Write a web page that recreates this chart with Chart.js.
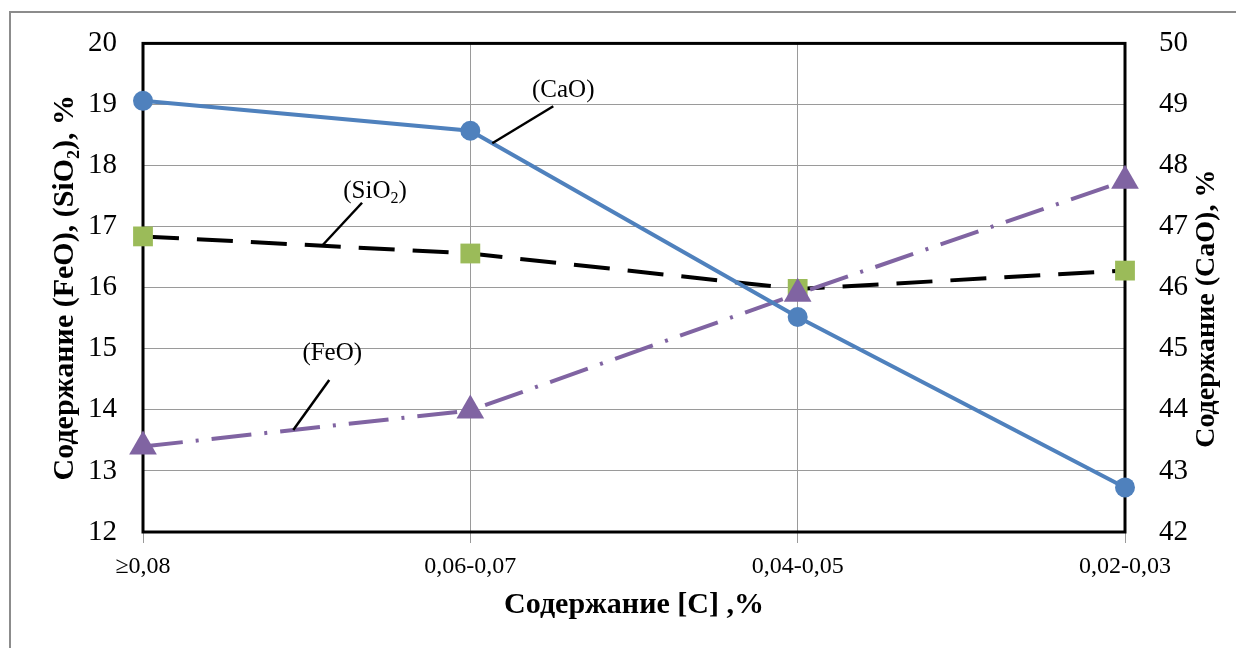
<!DOCTYPE html>
<html lang="ru">
<head>
<meta charset="utf-8">
<title>Содержание оксидов в шлаке</title>
<script src="https://cdn.jsdelivr.net/npm/chart.js@4.4.1/dist/chart.umd.min.js"></script>
<style>
    html, body { margin: 0; padding: 0; background: #fff; overflow: hidden; }
    #marco {
        position: absolute; left: 9px; top: 11px; width: 1400px; height: 800px;
        border-top: 2px solid #8c8c8c; border-left: 2px solid #8c8c8c;
    }
    #grafico { position: absolute; left: 0; top: 0; }
</style>
</head>
<body>
<div id="marco"></div>
<canvas id="grafico" width="1236" height="648"></canvas>
<script>
// ------------------------------ Datos ------------------------------
const categorias = ["≥0,08", "0,06-0,07", "0,04-0,05", "0,02-0,03"];

const valoresCaO = [49.06, 48.57, 45.52, 42.73];   // eje derecho
const valoresSiO2 = [16.84, 16.56, 15.98, 16.28];  // eje izquierdo
const valoresFeO = [13.40, 13.99, 15.90, 17.75];   // eje izquierdo

const ticksIzquierda = [12, 13, 14, 15, 16, 17, 18, 19, 20];
const ticksDerecha = [42, 43, 44, 45, 46, 47, 48, 49, 50];

const tituloX = "Содержание [С] ,%";
const tituloIzquierda = "Содержание (FeO), (SiO₂), %";
const tituloDerecha = "Содержание (CaO), %";

// ------------------------------ Estilos ------------------------------
const fuente = "'Liberation Serif', 'Times New Roman', serif";
const colorGrilla = "#9a9a9a";

// Etiquetas con línea guía: posición a lo largo de la serie (índice decimal)
const anotaciones = [
    { serie: 0, partes: [{ t: "(CaO)" }], pos: 1.067, lx: 61, ly: -37, tx: 71, ty: -53 },
    { serie: 2, partes: [{ t: "(SiO" }, { t: "2", sub: true }, { t: ")" }], pos: 0.547, lx: 40, ly: -43, tx: 53, ty: -54 },
    { serie: 1, partes: [{ t: "(FeO)" }], pos: 0.459, lx: 36, ly: -50, tx: 39, ty: -77 }
];

// ------------------------------ Plugin: marco, anotaciones y título derecho ------------------------------
const pluginExtras = {
    id: "extras",
    beforeDatasetsDraw(chart) {
        const { ctx, chartArea: a } = chart;
        ctx.save();
        ctx.strokeStyle = "#000";
        ctx.lineWidth = 3;
        ctx.strokeRect(a.left, a.top, a.right - a.left, a.bottom - a.top);
        ctx.restore();
    },
    afterDatasetsDraw(chart) {
        const { ctx } = chart;
        ctx.save();

        anotaciones.forEach(an => {
            const puntos = chart.getDatasetMeta(an.serie).data;
            const i = Math.floor(an.pos);
            const f = an.pos - i;
            const x = puntos[i].x + (puntos[i + 1].x - puntos[i].x) * f;
            const y = puntos[i].y + (puntos[i + 1].y - puntos[i].y) * f;

            ctx.strokeStyle = "#000";
            ctx.lineWidth = 2.5;
            ctx.beginPath();
            ctx.moveTo(x, y);
            ctx.lineTo(x + an.lx, y + an.ly);
            ctx.stroke();

            // Texto (con subíndice si hace falta)
            const normal = "25px " + fuente;
            const chico = "16px " + fuente;
            let ancho = 0;
            an.partes.forEach(p => {
                ctx.font = p.sub ? chico : normal;
                ancho += ctx.measureText(p.t).width;
            });
            let cx = x + an.tx - ancho / 2;
            const cy = y + an.ty;
            ctx.fillStyle = "#000";
            ctx.textBaseline = "middle";
            ctx.textAlign = "left";
            an.partes.forEach(p => {
                ctx.font = p.sub ? chico : normal;
                ctx.fillText(p.t, cx, p.sub ? cy + 7 : cy);
                cx += ctx.measureText(p.t).width;
            });
        });

        // Título del eje derecho, leído de abajo hacia arriba
        const s = chart.scales.y2;
        ctx.translate(s.right - 29, (s.top + s.bottom) / 2 + 21);
        ctx.rotate(-Math.PI / 2);
        ctx.font = "bold 28px " + fuente;
        ctx.textAlign = "center";
        ctx.textBaseline = "middle";
        ctx.fillStyle = "#000";
        ctx.fillText(tituloDerecha, 0, 0);

        ctx.restore();
    }
};

// ------------------------------ Gráfico ------------------------------
const ctx = document.getElementById("grafico").getContext("2d");

new Chart(ctx, {
    type: "line",
    data: {
        labels: categorias,
        datasets: [
            {
                label: "(CaO)",
                data: valoresCaO,
                yAxisID: "y2",
                borderColor: "#4f81bd",
                backgroundColor: "#4f81bd",
                borderWidth: 4,
                pointStyle: "circle",
                pointRadius: 10,
                pointBorderWidth: 0,
                clip: false
            },
            {
                label: "(FeO)",
                data: valoresFeO,
                yAxisID: "y",
                borderColor: "#8064a2",
                backgroundColor: "#8064a2",
                borderWidth: 4,
                borderDash: [40, 13, 3, 13],
                pointStyle: "triangle",
                pointRadius: 16,
                pointBorderWidth: 0,
                clip: false
            },
            {
                label: "(SiO2)",
                data: valoresSiO2,
                yAxisID: "y",
                borderColor: "#000",
                backgroundColor: "#9bbb59",
                borderWidth: 4,
                borderDash: [36, 18],
                pointStyle: "rect",
                pointRadius: 14,
                pointBorderWidth: 0,
                clip: false
            }
        ]
    },
    options: {
        responsive: false,
        animation: false,
        layout: { padding: { top: 40, left: 0, right: 0, bottom: 0 } },
        plugins: {
            legend: { display: false },
            tooltip: { enabled: false }
        },
        scales: {
            x: {
                type: "category",
                offset: false,
                grid: { color: colorGrilla, offset: false, tickLength: 11, lineWidth: 1 },
                border: { display: false },
                ticks: {
                    color: "#000",
                    font: { family: fuente, size: 24 },
                    padding: 9,
                    maxRotation: 0,
                    autoSkip: false
                },
                title: {
                    display: true,
                    text: tituloX,
                    color: "#000",
                    font: { family: fuente, size: 30, weight: "bold" },
                    padding: { top: 0, bottom: 25 }
                },
                afterFit: (escala) => { escala.height = 116; }
            },
            y: {
                position: "left",
                min: 12,
                max: 20,
                afterBuildTicks: (escala) => { escala.ticks = ticksIzquierda.map(v => ({ value: v })); },
                grid: { color: colorGrilla, drawTicks: false, lineWidth: 1 },
                border: { display: false },
                ticks: {
                    color: "#000",
                    font: { family: fuente, size: 29 },
                    padding: 26
                },
                title: {
                    display: true,
                    text: tituloIzquierda,
                    color: "#000",
                    font: { family: fuente, size: 30, weight: "bold" },
                    padding: { top: 47, bottom: 0 }
                },
                afterFit: (escala) => { escala.width = 143; }
            },
            y2: {
                position: "right",
                min: 42,
                max: 50,
                afterBuildTicks: (escala) => { escala.ticks = ticksDerecha.map(v => ({ value: v })); },
                grid: { display: false },
                border: { display: false },
                ticks: {
                    color: "#000",
                    font: { family: fuente, size: 29 },
                    padding: 26
                },
                afterFit: (escala) => { escala.width = 111; }
            }
        }
    },
    plugins: [pluginExtras]
});
</script>
</body>
</html>
